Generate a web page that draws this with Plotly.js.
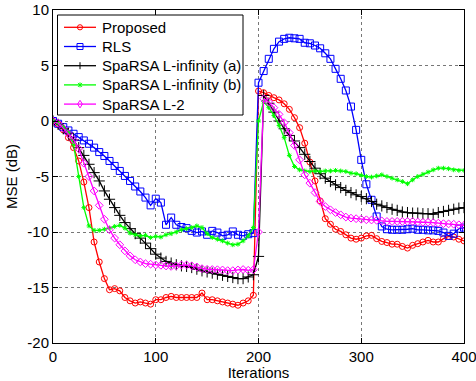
<!DOCTYPE html>
<html>
<head>
<meta charset="utf-8">
<script src="https://cdn.plot.ly/plotly-3.0.1.min.js"></script>
<style>html,body{margin:0;padding:0;background:#fff;}#chart{width:476px;height:381px;}</style>
</head>
<body>
<div id="chart"></div>
<script>
var iterations = [0,5,10,15,20,25,30,35,40,45,50,55,60,65,70,75,80,85,90,95,
  100,105,110,115,120,125,130,135,140,145,150,155,160,165,170,175,180,185,190,195,
  200,205,210,215,220,225,230,235,240,245,250,255,260,265,270,275,280,285,290,295,
  300,305,310,315,320,325,330,335,340,345,350,355,360,365,370,375,380,385,390,395,400];

var proposed = [0,-0.3,-0.8,-1.5,-2.4,-3.6,-5.5,-7.8,-10.9,-12.7,
  -14.2,-15.2,-15.1,-15.3,-15.9,-16.2,-16.4,-16.3,-16.4,-16.5,
  -16.1,-16.1,-15.9,-15.8,-15.9,-15.9,-15.9,-15.9,-15.9,-15.5,
  -16.1,-16.1,-16.2,-16.3,-16.4,-16.5,-16.6,-16.4,-16.2,-15.7,
  2.7,2.55,2.3,2.1,1.9,1.55,1.05,0.3,-0.6,-2.0,
  -3.7,-5.4,-7.2,-8.8,-9.3,-9.75,-9.95,-10.25,-10.55,-10.65,
  -10.55,-10.35,-10.3,-10.6,-10.85,-10.95,-11.1,-11.1,-11.3,-11.45,
  -11.2,-11.05,-10.9,-10.75,-10.9,-10.9,-10.6,-10.4,-10.45,-10.65,
  -10.8];

var rls = [0,-0.25,-0.55,-0.85,-1.15,-1.45,-1.75,-2.05,-2.4,-2.8,
  -3.15,-3.6,-4.05,-4.5,-4.95,-5.4,-5.9,-6.35,-6.9,-7.6,
  -7.0,-7.35,-9.35,-8.7,-9.35,-9.55,-9.65,-9.9,-10.05,-9.95,
  -10.25,-9.9,-10.05,-10.35,-10.25,-9.95,-10.25,-10.35,-10.2,-10.1,
  3.45,4.5,5.6,6.5,7.15,7.4,7.5,7.45,7.4,7.05,
  7.0,6.8,6.55,6.1,5.6,4.7,3.8,2.75,1.3,-0.8,
  -3.5,-5.7,-7.1,-8.6,-9.5,-9.75,-9.8,-9.8,-9.8,-9.75,
  -9.7,-9.8,-9.8,-9.85,-9.85,-9.9,-10.05,-10.35,-10.15,-9.7,
  -9.6];

var linfA = [0,-0.3,-0.7,-1.1,-1.7,-2.4,-3.1,-3.9,-4.65,-5.4,
  -6.3,-7.05,-7.8,-8.5,-9.15,-9.7,-10.15,-10.55,-11.0,-11.5,
  -12.0,-12.35,-12.65,-12.8,-12.95,-13.05,-13.1,-13.2,-13.35,-13.5,
  -13.6,-13.7,-13.8,-13.9,-14.0,-14.1,-14.2,-14.2,-14.05,-13.85,
  -12.2,2.3,1.6,0.8,0.0,-0.7,-1.3,-1.8,-2.4,-3.0,
  -3.65,-4.25,-4.75,-5.15,-5.45,-5.75,-6.0,-6.25,-6.45,-6.65,
  -6.8,-7.0,-7.25,-7.5,-7.65,-7.8,-7.95,-8.05,-8.2,-8.25,
  -8.3,-8.3,-8.35,-8.35,-8.4,-8.25,-8.15,-8.05,-7.95,-7.85,
  -7.8];

var linfB = [0,-0.2,-0.5,-1.0,-2.1,-5.0,-7.8,-9.45,-9.85,-9.85,
  -9.75,-9.65,-9.5,-9.4,-9.65,-10.1,-10.25,-10.35,-10.3,-10.5,
  -10.4,-10.45,-10.25,-10.15,-10.0,-9.8,-9.7,-9.6,-9.45,-9.6,
  -10.15,-10.5,-10.65,-10.8,-11.0,-11.15,-11.1,-10.8,-10.35,-9.6,
  0.0,1.75,1.2,0.5,-0.4,-1.5,-3.1,-4.1,-4.4,-4.5,
  -4.55,-4.5,-4.55,-4.5,-4.5,-4.45,-4.5,-4.55,-4.7,-4.75,
  -4.9,-5.0,-5.05,-4.95,-4.85,-5.0,-5.15,-5.3,-5.45,-5.65,
  -5.3,-5.0,-4.8,-4.6,-4.4,-4.25,-4.25,-4.3,-4.4,-4.45,
  -4.45];

var l2 = [0,-0.2,-0.65,-1.15,-1.7,-2.5,-3.8,-5.0,-6.3,-7.6,
  -8.85,-9.8,-10.55,-11.15,-11.7,-12.15,-12.5,-12.7,-12.85,-12.9,
  -12.97,-13.0,-13.06,-13.1,-13.05,-12.97,-12.97,-13.05,-13.15,-13.3,
  -13.36,-13.38,-13.4,-13.42,-13.48,-13.48,-13.42,-13.38,-13.45,-13.4,
  -10.0,2.0,1.7,1.2,0.6,-0.15,-1.05,-2.2,-3.5,-4.85,
  -5.6,-6.45,-7.25,-7.7,-8.0,-8.25,-8.45,-8.65,-8.75,-8.8,
  -8.85,-8.9,-8.92,-8.95,-9.0,-9.05,-9.05,-9.05,-9.05,-9.05,
  -9.05,-9.1,-9.12,-9.12,-9.15,-9.2,-9.25,-9.27,-9.3,-9.35,
  -9.4];

var seriesNames = ['Proposed','RLS','SpaRSA L-infinity (a)','SpaRSA L-infinity (b)','SpaRSA L-2'];
var seriesColors = ['#ff0000','#0000ff','#000000','#00ff00','#ff00ff'];
var seriesSymbols = ['circle-open','square-open','cross-thin-open','asterisk-open','diamond-open'];
var xTickVals = [0,100,200,300,400];
var yTickVals = [-20,-15,-10,-5,0,5,10];

var FONT = 'Liberation Sans, Arial, Helvetica, sans-serif';
var W = 476, H = 381, ML = 53, MR = 12, MT = 10, MB = 38;
var PW = W - ML - MR, PH = H - MT - MB;
function px(x) { return (x - ML) / PW; }
function py(y) { return (H - MB - y) / PH; }

var allY = [proposed, rls, linfA, linfB, l2];
var sizes = [6, 7, 8, 4, 6];
var data = allY.map(function (ys, i) {
  return {
    x: iterations, y: ys, name: seriesNames[i], type: 'scatter', mode: 'lines+markers',
    line: {color: seriesColors[i], width: 1.3},
    marker: {symbol: seriesSymbols[i], size: sizes[i], color: seriesColors[i],
             line: {color: seriesColors[i], width: 1}},
    showlegend: false
  };
});

// custom MATLAB-style legend built from layout shapes and annotations
var shapes = [], annotations = [];
var boxL = 57.5, boxR = 243, boxT = 15, boxB = 115;
shapes.push({type: 'rect', xref: 'paper', yref: 'paper', x0: px(boxL), x1: px(boxR), y0: py(boxB), y1: py(boxT),
  line: {color: '#000', width: 1}, fillcolor: '#fff', layer: 'above'});
function seg(x0, y0, x1, y1, c, w) {
  shapes.push({type: 'line', xref: 'paper', yref: 'paper', x0: px(x0), y0: py(y0), x1: px(x1), y1: py(y1),
    line: {color: c, width: w || 1}, layer: 'above'});
}
for (var i = 0; i < seriesNames.length; i++) {
  var cy = 27.3 + 19.2 * i, c = seriesColors[i], mx = 80;
  seg(64, cy, 96, cy, c, 1.3);
  if (i === 0) {
    shapes.push({type: 'circle', xref: 'paper', yref: 'paper', x0: px(mx - 2.6), x1: px(mx + 2.6),
      y0: py(cy + 2.6), y1: py(cy - 2.6), line: {color: c, width: 1}, fillcolor: 'rgba(0,0,0,0)', layer: 'above'});
  } else if (i === 1) {
    shapes.push({type: 'rect', xref: 'paper', yref: 'paper', x0: px(mx - 3), x1: px(mx + 3),
      y0: py(cy + 3), y1: py(cy - 3), line: {color: c, width: 1}, fillcolor: 'rgba(0,0,0,0)', layer: 'above'});
  } else if (i === 2) {
    seg(mx, cy - 3.5, mx, cy + 3.5, c, 1);
  } else if (i === 3) {
    seg(mx - 2, cy - 2, mx + 2, cy + 2, c, 1);
    seg(mx - 2, cy + 2, mx + 2, cy - 2, c, 1);
    seg(mx, cy - 2.5, mx, cy + 2.5, c, 1);
  } else {
    var d = 'M ' + px(mx) + ' ' + py(cy - 3.8) + ' L ' + px(mx + 2.4) + ' ' + py(cy) +
            ' L ' + px(mx) + ' ' + py(cy + 3.8) + ' L ' + px(mx - 2.4) + ' ' + py(cy) + ' Z';
    shapes.push({type: 'path', xref: 'paper', yref: 'paper', path: d, line: {color: c, width: 1},
      fillcolor: 'rgba(0,0,0,0)', layer: 'above'});
  }
  annotations.push({xref: 'paper', yref: 'paper', x: px(99.5), y: py(cy), xanchor: 'left', yanchor: 'middle',
    text: seriesNames[i], showarrow: false, font: {family: FONT, size: 15, color: '#000'}});
}

var axisCommon = {
  showline: true, linecolor: '#000', linewidth: 1, mirror: 'ticks',
  ticks: 'inside', ticklen: 5, tickcolor: '#000', tickwidth: 1,
  showgrid: true, gridcolor: '#777', griddash: 'dot', gridwidth: 1,
  zeroline: false, ticklabeloverflow: 'allow',
  tickfont: {family: FONT, size: 15, color: '#000'}
};

var layout = {
  width: W, height: H,
  margin: {l: ML, r: MR, t: MT, b: MB},
  paper_bgcolor: '#fff', plot_bgcolor: '#fff',
  font: {family: FONT, size: 15, color: '#000'},
  showlegend: false,
  shapes: shapes,
  annotations: annotations,
  xaxis: Object.assign({}, axisCommon, {
    range: [0, 400], tickvals: xTickVals, ticktext: xTickVals.map(String),
    title: {text: 'Iterations', font: {family: FONT, size: 15, color: '#000'}, standoff: 0}
  }),
  yaxis: Object.assign({}, axisCommon, {
    range: [-20, 10], tickvals: yTickVals, ticktext: yTickVals.map(String),
    title: {text: 'MSE (dB)', font: {family: FONT, size: 15, color: '#000'}, standoff: 6}
  })
};

Plotly.newPlot('chart', data, layout, {displayModeBar: false, staticPlot: true});
</script>
</body>
</html>
